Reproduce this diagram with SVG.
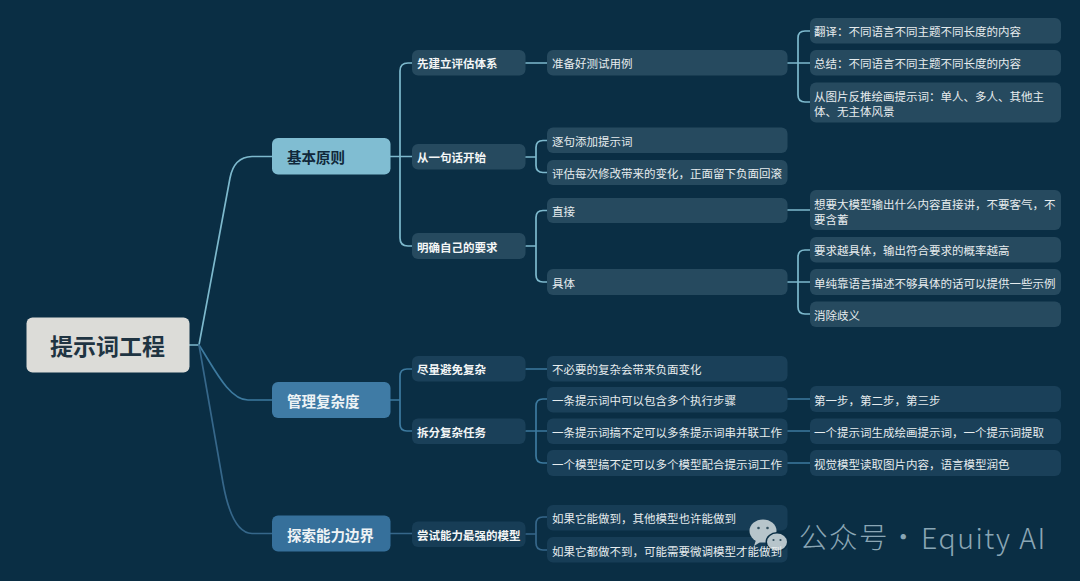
<svg xmlns="http://www.w3.org/2000/svg" width="1080" height="581" viewBox="0 0 1080 581">
<style>
text{font-family:"Noto Sans CJK SC","Liberation Sans",sans-serif;dominant-baseline:central}
.c{fill:none;stroke-width:1.7;stroke-linecap:round}
.a{stroke:#7db9cd}.b{stroke:#3d7a9f}.d{stroke:#36678a}
.l2,.l3,.l4{rx:6px;fill:#264a5f}
.l2.lo,.l3.lo,.l4.lo{fill:#1a4059}
.l2.lw,.l3.lw,.l4.lw{fill:#173d56}
.t{font-size:11.5px;fill:#e6ecee}
.tb{font-size:11.5px;font-weight:700;fill:#f4f6f6}
.h{font-size:14.5px;font-weight:700}
</style>
<rect width="1080" height="581" fill="#0a2e44"/>
<g id="connectors">
<path class="c a" d="M189 345H199L230 178Q234 157 252 156.500H272"/>
<path class="c b" d="M199 345C214 368 229 400 248 400H272"/>
<path class="c d" d="M199 345L223 483Q232 533 252 533.500H272"/>
<path class="c a" d="M390 156.500H412M412 63H408Q400 63 400 71V238Q400 246 408 246H412"/>
<path class="c a" d="M525.500 63H547M525.500 157H536M547 140.500H543Q536 140.500 536 147.500V165.500Q536 172.500 543 172.500H547M526 246H536M547 210.500H543Q536 210.500 536 217.500V275Q536 282 543 282H547"/>
<path class="c a" d="M787.500 63H810M810 31H805Q798 31 798 38V95Q798 102 805 102H810M787.500 210H810M787.500 282H810M810 250H805Q798 250 798 257V307Q798 314 805 314H810"/>
<path class="c b" d="M390 400H400M412 369H407Q400 369 400 376V424Q400 431 407 431H412M526 369H547M526 431H547M547 399H543Q536 399 536 406V456Q536 463 543 463H547M787.500 399H810M787.500 431H810M787.500 463H810"/>
<path class="c d" d="M390 533.500H412M526 534H536M547 517H543Q536 517 536 524V543Q536 550 543 550H547"/>
</g>
<g id="root"><rect x="26.500" y="317.500" width="163" height="55" rx="6" fill="#dcdcd8"/><text x="107.500" y="345" text-anchor="middle" font-size="23" font-weight="700" fill="#1f3442">提示词工程</text></g>
<g id="n1"><rect x="272" y="138" width="118.500" height="36.500" rx="6" fill="#80bdd2"/><text class="h" x="287" y="156.500" fill="#10283a">基本原则</text></g>
<g id="n2"><rect x="272" y="382" width="118.500" height="36" rx="6" fill="#3f7ba5"/><text class="h" x="287" y="400.500" fill="#eef3f5">管理复杂度</text></g>
<g id="n3"><rect x="272" y="515.500" width="118.500" height="36" rx="6" fill="#36709b"/><text class="h" x="287" y="534" fill="#eef3f5">探索能力边界</text></g>

<g id="a1"><rect class="l2" x="412" y="50" width="113.500" height="25.500"/><text class="tb" x="417" y="63">先建立评估体系</text></g>
<g id="a2"><rect class="l2" x="412" y="144" width="113.500" height="25.500"/><text class="tb" x="417" y="157">从一句话开始</text></g>
<g id="a3"><rect class="l2" x="412" y="233" width="113.500" height="26"/><text class="tb" x="417" y="246.500">明确自己的要求</text></g>
<g id="a4"><rect class="l2 lo" x="412" y="356" width="113.500" height="25.500"/><text class="tb" x="417" y="369">尽量避免复杂</text></g>
<g id="a5"><rect class="l2 lo" x="412" y="418.500" width="113.500" height="25.500"/><text class="tb" x="417" y="431.500">拆分复杂任务</text></g>
<g id="a6"><rect class="l2 lw" x="412" y="521.500" width="113.500" height="25.500"/><text class="tb" x="417" y="534.500">尝试能力最强的模型</text></g>

<g id="b1"><rect class="l3" x="547" y="50" width="240.500" height="25.500"/><text class="t" x="552" y="63">准备好测试用例</text></g>
<g id="b2"><rect class="l3" x="547" y="127.500" width="240.500" height="25.500"/><text class="t" x="552" y="141">逐句添加提示词</text></g>
<g id="b3"><rect class="l3" x="547" y="160" width="240.500" height="25"/><text class="t" x="552" y="173">评估每次修改带来的变化&#xFF0C;正面留下负面回滚</text></g>
<g id="b4"><rect class="l3" x="547" y="198" width="240.500" height="25"/><text class="t" x="552" y="211">直接</text></g>
<g id="b5"><rect class="l3" x="547" y="269" width="240.500" height="26"/><text class="t" x="552" y="282.500">具体</text></g>
<g id="b6"><rect class="l3 lo" x="547" y="356" width="240.500" height="25.500"/><text class="t" x="552" y="369">不必要的复杂会带来负面变化</text></g>
<g id="b7"><rect class="l3 lo" x="547" y="387" width="240.500" height="25.500"/><text class="t" x="552" y="400">一条提示词中可以包含多个执行步骤</text></g>
<g id="b8"><rect class="l3 lo" x="547" y="418.500" width="240.500" height="25.500"/><text class="t" x="552" y="431.500">一条提示词搞不定可以多条提示词串并联工作</text></g>
<g id="b9"><rect class="l3 lo" x="547" y="450" width="240.500" height="26"/><text class="t" x="552" y="463.500">一个模型搞不定可以多个模型配合提示词工作</text></g>
<g id="b10"><rect class="l3 lw" x="547" y="505" width="240.500" height="25.500"/><text class="t" x="552" y="518">如果它能做到&#xFF0C;其他模型也许能做到</text></g>
<g id="b11"><rect class="l3 lw" x="547" y="537" width="240.500" height="25.500"/>
<g id="wechat-icon"><ellipse cx="763" cy="531" rx="13.500" ry="11.500" fill="#b7c5cb"/><path d="M756 540L754 546L762 541Z" fill="#b7c5cb"/><ellipse cx="777" cy="542" rx="11.500" ry="10" fill="#0a2e44"/><ellipse cx="777" cy="542" rx="10" ry="8.500" fill="#b7c5cb"/><circle cx="758.500" cy="528" r="1.300" fill="#33505f"/><circle cx="767.500" cy="528" r="1.300" fill="#33505f"/><circle cx="773.500" cy="540" r="1.100" fill="#33505f"/><circle cx="780.500" cy="540" r="1.100" fill="#33505f"/></g>
<text class="t" x="552" y="550.500">如果它都做不到&#xFF0C;可能需要微调模型才能做到</text></g>

<g id="c1"><rect class="l4" x="810" y="18" width="251" height="25.500"/><text class="t" x="814" y="31">翻译&#xFF1A;不同语言不同主题不同长度的内容</text></g>
<g id="c2"><rect class="l4" x="810" y="50" width="251" height="25.500"/><text class="t" x="814" y="63">总结&#xFF1A;不同语言不同主题不同长度的内容</text></g>
<g id="c3"><rect class="l4" x="810" y="82.500" width="251" height="40"/><text class="t" x="814" y="96">从图片反推绘画提示词&#xFF1A;单人、多人、其他主</text><text class="t" x="814" y="111">体、无主体风景</text></g>
<g id="c4"><rect class="l4" x="810" y="190" width="251" height="40"/><text class="t" x="814" y="203.500">想要大模型输出什么内容直接讲&#xFF0C;不要客气&#xFF0C;不</text><text class="t" x="814" y="218.500">要含蓄</text></g>
<g id="c5"><rect class="l4" x="810" y="237" width="251" height="25.500"/><text class="t" x="814" y="250">要求越具体&#xFF0C;输出符合要求的概率越高</text></g>
<g id="c6"><rect class="l4" x="810" y="269" width="251" height="26"/><text class="t" x="814" y="282.500">单纯靠语言描述不够具体的话可以提供一些示例</text></g>
<g id="c7"><rect class="l4" x="810" y="301.500" width="251" height="25.500"/><text class="t" x="814" y="314.500">消除歧义</text></g>
<g id="c8"><rect class="l4 lo" x="810" y="386" width="251" height="26"/><text class="t" x="814" y="399.500">第一步&#xFF0C;第二步&#xFF0C;第三步</text></g>
<g id="c9"><rect class="l4 lo" x="810" y="418.500" width="251" height="25.500"/><text class="t" x="814" y="431.500">一个提示词生成绘画提示词&#xFF0C;一个提示词提取</text></g>
<g id="c10"><rect class="l4 lo" x="810" y="450" width="251" height="26"/><text class="t" x="814" y="463.500">视觉模型读取图片内容&#xFF0C;语言模型润色</text></g>

<text id="watermark" x="799" y="535.500" font-size="28.500" font-weight="300" letter-spacing="1.500" fill="#8aa6b5">公众号·<tspan x="921">Equity AI</tspan></text>
</svg>
